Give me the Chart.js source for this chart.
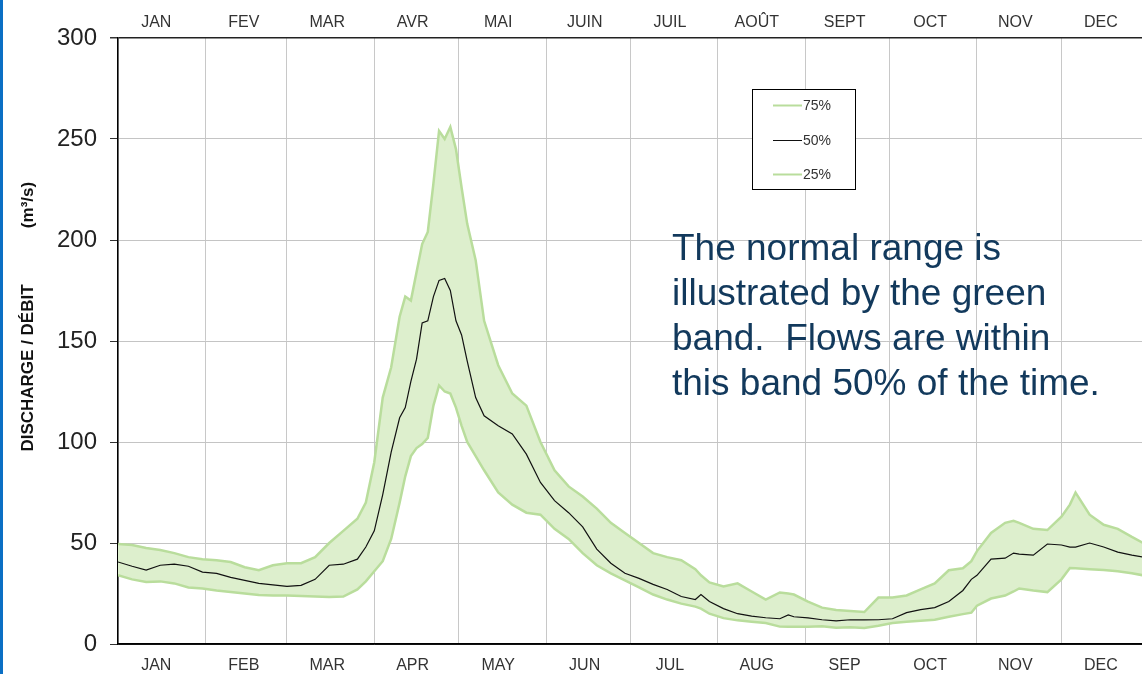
<!DOCTYPE html>
<html>
<head>
<meta charset="utf-8">
<script src="https://cdn.jsdelivr.net/npm/chart.js@4/dist/chart.umd.min.js"></script>
<style>
  html, body { margin: 0; padding: 0; background: #fff; overflow: hidden; }
  #wrap { position: relative; width: 1142px; height: 674px; }
</style>
</head>
<body>
<div id="wrap"><canvas id="flowChart" width="1142" height="674"></canvas></div>
<script>
// day of year (leap year, 0 = Jan 1)
const days = [
  0, 5, 10, 15, 20, 25, 30, 35, 40, 45,
  50, 55, 60, 65, 70, 75, 80, 85, 88, 91,
  94, 97, 100, 102, 104, 106, 108, 110, 112, 114,
  116, 118, 120, 122, 124, 127, 130, 135, 140, 145,
  150, 155, 160, 165, 170, 175, 180, 185, 190, 195,
  200, 205, 207, 210, 215, 220, 225, 230, 235, 238,
  240, 245, 250, 255, 260, 265, 270, 275, 280, 285,
  290, 295, 300, 303, 305, 310, 315, 318, 320, 325,
  330, 335, 338, 340, 345, 350, 355, 360, 364
];

const p75 = [
  49.5, 49, 47.5, 46.5, 45, 43, 42, 41.5, 40.6, 38,
  36.5, 39, 40, 40, 43, 50, 56, 62, 70, 90,
  122, 137, 162, 172, 170, 184, 198, 204, 228, 254,
  250, 256, 245, 226, 208, 190, 160, 138, 124, 118,
  100, 86, 78, 73, 67, 60, 55, 50, 45, 43,
  41.5, 37, 34, 30.5, 28.5, 30, 26, 22, 25.5, 25,
  24.5, 21, 18, 16.8, 16.3, 15.8, 23, 23, 24, 27,
  30, 36.5, 37.5, 41, 46, 55, 60, 61, 60, 57,
  56.4, 63, 69, 75, 64, 59, 57, 53, 50
];

const p50 = [
  40.6, 38.5, 36.6, 39, 39.5, 38.5, 35.6, 35, 33, 31.5,
  30, 29.3, 28.5, 29, 32, 39, 39.5, 42, 48, 56,
  74, 95, 112, 117, 130, 141, 159, 160, 172, 180,
  181, 175, 160, 153, 140, 122, 113, 108, 104, 94,
  80, 71, 65, 58, 47, 40, 35, 32.5, 29.5, 27,
  23.5, 22, 24.5, 21, 17.5, 15, 13.8, 13, 12.5, 14.4,
  13.5, 12.9, 12, 11.4, 12, 11.9, 12, 12.5, 15.5, 17,
  18, 21, 26.5, 32, 34, 42, 42.5, 45, 44.5, 44,
  49.5, 49, 48, 48, 50, 48, 45.5, 44, 43
];

const p25 = [
  34, 32, 30.7, 31, 30, 28, 27.5, 26.5, 25.7, 25,
  24.2, 24, 24, 23.8, 23.5, 23.3, 23.5, 27, 31, 36,
  41, 52, 70, 83, 93, 97, 99, 102, 118, 128,
  125, 124, 117, 108, 100, 93, 86, 75, 69, 65,
  64, 57, 52, 45, 39, 35, 31.5, 28, 24.5, 22,
  20, 18.5, 17.5, 15, 12.8, 11.7, 11, 10.4, 8.6, 8.5,
  8.5, 8.5, 8.8, 8, 8.3, 7.9, 9, 10.4, 11, 11.5,
  12, 13.5, 14.8, 15.5, 19, 22.5, 24, 26, 27.5, 26.5,
  25.7, 32, 37.6, 37.5, 37, 36.6, 36, 35, 34
];

const monthStarts = [0, 31, 60, 91, 121, 152, 182, 213, 244, 274, 305, 335];
const labelDays = [13.6, 44.7, 74.3, 104.6, 135, 165.7, 196, 226.8, 258, 288.4, 318.6, 349];
const monthsEn = ["JAN", "FEB", "MAR", "APR", "MAY", "JUN", "JUL", "AUG", "SEP", "OCT", "NOV", "DEC"];
const monthsFr = ["JAN", "FEV", "MAR", "AVR", "MAI", "JUIN", "JUIL", "AOÛT", "SEPT", "OCT", "NOV", "DEC"];
const yTicks = [0, 50, 100, 150, 200, 250, 300];

const seriesNames = ["75%", "50%", "25%"];
const noteLines = [
  "The normal range is",
  "illustrated by the green",
  "band.  Flows are within",
  "this band 50% of the time."
];

const FONT = '"Liberation Sans", Arial, sans-serif';
const bandLine = "#b9dd9c";
const bandFill = "#ddefcd";

function toPoints(values) {
  return values.map((v, i) => ({ x: days[i], y: v }));
}

// bottom axis carries both the month gridlines and the month names
function bottomTicks() {
  const ticks = monthStarts.map(v => ({ value: v, isStart: true, text: "" }));
  labelDays.forEach((v, i) => ticks.push({ value: v, isStart: false, text: monthsEn[i] }));
  ticks.sort((a, b) => a.value - b.value);
  return ticks;
}

// boxes drawn over the chart: left border, axis title, legend, note
const decorations = {
  id: "decorations",
  afterDraw(chart) {
    const ctx = chart.ctx;
    ctx.save();

    ctx.fillStyle = "#0b6fc4";
    ctx.fillRect(0, 0, 3, chart.height);

    // rotated y title
    ctx.fillStyle = "#111";
    ctx.font = "bold 17px " + FONT;
    ctx.textAlign = "center";
    ctx.textBaseline = "alphabetic";
    ctx.save();
    ctx.translate(33, 368);
    ctx.rotate(-Math.PI / 2);
    ctx.fillText("DISCHARGE / DÉBIT", 0, 0);
    ctx.restore();
    ctx.save();
    ctx.translate(33, 205);
    ctx.rotate(-Math.PI / 2);
    ctx.fillText("(m³/s)", 0, 0);
    ctx.restore();

    // legend box
    ctx.fillStyle = "#fff";
    ctx.fillRect(752, 89, 104, 101);
    ctx.strokeStyle = "#000";
    ctx.lineWidth = 1;
    ctx.strokeRect(752.5, 89.5, 103, 100);
    const rows = [105, 140, 174];
    const colors = [bandLine, "#111", bandLine];
    ctx.font = "14px " + FONT;
    ctx.textAlign = "left";
    ctx.textBaseline = "middle";
    rows.forEach((y, i) => {
      ctx.strokeStyle = colors[i];
      ctx.lineWidth = i === 1 ? 1 : 2;
      ctx.beginPath();
      ctx.moveTo(773, y + 0.5);
      ctx.lineTo(802, y + 0.5);
      ctx.stroke();
      ctx.fillStyle = "#333";
      ctx.fillText(seriesNames[i], 803, y + 1);
    });

    // explanatory note
    ctx.fillStyle = "#12395c";
    ctx.font = "37px " + FONT;
    ctx.textBaseline = "alphabetic";
    noteLines.forEach((line, i) => ctx.fillText(line, 672, 260 + i * 45));

    ctx.restore();
  }
};

const ctx = document.getElementById("flowChart").getContext("2d");
new Chart(ctx, {
  type: "line",
  data: {
    datasets: [
      {
        label: seriesNames[0],
        data: toPoints(p75),
        borderColor: bandLine,
        borderWidth: 2.5,
        backgroundColor: bandFill,
        fill: 2,
        order: 1
      },
      {
        label: seriesNames[1],
        data: toPoints(p50),
        borderColor: "#111",
        borderWidth: 1.2,
        fill: false,
        order: 0
      },
      {
        label: seriesNames[2],
        data: toPoints(p25),
        borderColor: bandLine,
        borderWidth: 2.5,
        fill: false,
        order: 1
      }
    ]
  },
  options: {
    responsive: false,
    animation: false,
    devicePixelRatio: 1,
    layout: { padding: 0 },
    elements: { point: { radius: 0 }, line: { tension: 0 } },
    plugins: {
      legend: { display: false },
      tooltip: { enabled: false },
      filler: { drawTime: "beforeDatasetsDraw" }
    },
    scales: {
      x: {
        type: "linear",
        position: "bottom",
        min: 0,
        max: 363.6,
        afterBuildTicks: scale => { scale.ticks = bottomTicks(); },
        afterFit: scale => { scale.height = 30; },
        ticks: {
          autoSkip: false,
          maxRotation: 0,
          padding: 12,
          color: "#333",
          font: { family: FONT, size: 16 },
          callback: (value, index, ticks) => ticks[index].text
        },
        grid: {
          drawTicks: false,
          color: c => (c.tick && c.tick.isStart ? "#c8c8c8" : "rgba(0,0,0,0)")
        },
        border: { display: true, color: "#000", width: 1.5 }
      },
      xTop: {
        type: "linear",
        position: "top",
        min: 0,
        max: 363.6,
        afterBuildTicks: scale => { scale.ticks = labelDays.map(v => ({ value: v })); },
        afterFit: scale => { scale.height = 38; },
        ticks: {
          autoSkip: false,
          maxRotation: 0,
          padding: -2,
          color: "#333",
          font: { family: FONT, size: 16 },
          callback: (value, index) => monthsFr[index]
        },
        grid: { display: false },
        border: { display: false }
      },
      y: {
        min: 0,
        max: 300,
        afterBuildTicks: scale => { scale.ticks = yTicks.map(v => ({ value: v })); },
        afterFit: scale => { scale.width = 118; },
        ticks: {
          padding: 13,
          color: "#222",
          font: { family: FONT, size: 24 }
        },
        grid: {
          tickLength: 8,
          tickColor: "#333",
          color: c => (c.tick && (c.tick.value === 0 || c.tick.value === 300) ? "#222" : "#c4c4c4"),
          lineWidth: c => (c.tick && c.tick.value === 300 ? 1.5 : 1)
        },
        border: { display: true, color: "#000", width: 1.5 }
      }
    }
  },
  plugins: [decorations]
});
</script>
</body>
</html>
